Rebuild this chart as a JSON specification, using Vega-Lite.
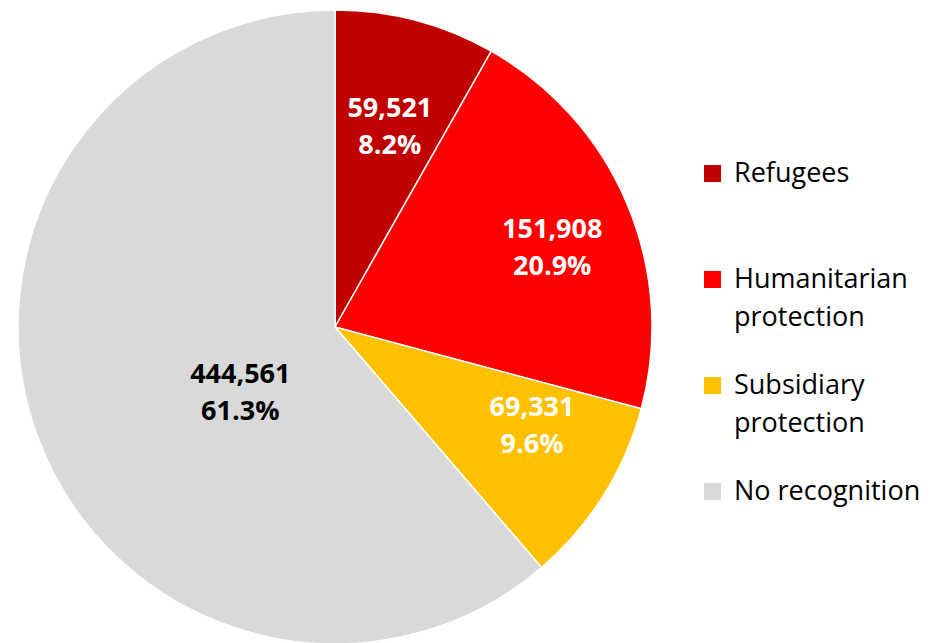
{
  "$schema": "https://vega.github.io/schema/vega-lite/v6.json",
  "width": 670,
  "height": 654,
  "padding": 0,
  "autosize": {"type": "pad"},
  "background": "white",
  "config": {
    "view": {"stroke": null},
    "style": {"guide-label": {"lineHeight": 38}}
  },
  "data": {
    "values": [
      {"category": "Refugees", "rank": 1, "value": 59521, "pct": 8.2},
      {"category": "Humanitarian protection", "rank": 2, "value": 151908, "pct": 20.9},
      {"category": "Subsidiary protection", "rank": 3, "value": 69331, "pct": 9.6},
      {"category": "No recognition", "rank": 4, "value": 444561, "pct": 61.3}
    ]
  },
  "transform": [
    {"calculate": "format(datum.value, ',') + '\\n' + format(datum.pct, '.1f') + '%'", "as": "label"}
  ],
  "encoding": {
    "theta": {"field": "value", "type": "quantitative", "stack": true},
    "order": {"field": "rank", "type": "quantitative"}
  },
  "layer": [
    {
      "mark": {"type": "arc", "radius": 317, "stroke": "white", "strokeWidth": 1.5},
      "encoding": {
        "color": {
          "field": "category",
          "type": "nominal",
          "scale": {
            "domain": ["Refugees", "Humanitarian protection", "Subsidiary protection", "No recognition"],
            "range": ["#C00000", "#FF0000", "#FFC000", "#D9D9D9"]
          },
          "legend": {
            "title": null,
            "orient": "none",
            "legendX": 699,
            "legendY": 160,
            "symbolType": "square",
            "symbolSize": 289,
            "symbolStrokeWidth": 0,
            "labelFont": "Open Sans",
            "labelFontSize": 27,
            "labelColor": "#000000",
            "labelOffset": 8,
            "labelLimit": 400,
            "gridAlign": "all",
            "rowPadding": 40,
            "labelExpr": "datum.label == 'No recognition' ? datum.label : split(datum.label, ' ')"
          }
        }
      }
    },
    {
      "mark": {"type": "text", "radius": 215, "dy": -10, "font": "Open Sans", "fontSize": 27, "fontWeight": "bold", "lineBreak": "\n", "lineHeight": 37, "color": "white"},
      "encoding": {
        "text": {"condition": {"test": "datum.category !== 'Refugees'", "value": ""}, "field": "label", "type": "nominal"}
      }
    },
    {
      "mark": {"type": "text", "radius": 215, "dx": 19, "dy": -14, "font": "Open Sans", "fontSize": 27, "fontWeight": "bold", "lineBreak": "\n", "lineHeight": 37, "color": "white"},
      "encoding": {
        "text": {"condition": {"test": "datum.category !== 'Humanitarian protection'", "value": ""}, "field": "label", "type": "nominal"}
      }
    },
    {
      "mark": {"type": "text", "radius": 215, "dx": 15, "dy": -33, "font": "Open Sans", "fontSize": 27, "fontWeight": "bold", "lineBreak": "\n", "lineHeight": 37, "color": "white"},
      "encoding": {
        "text": {"condition": {"test": "datum.category !== 'Subsidiary protection'", "value": ""}, "field": "label", "type": "nominal"}
      }
    },
    {
      "mark": {"type": "text", "radius": 101, "dy": 13, "font": "Open Sans", "fontSize": 27, "fontWeight": "bold", "lineBreak": "\n", "lineHeight": 37, "color": "black"},
      "encoding": {
        "text": {"condition": {"test": "datum.category !== 'No recognition'", "value": ""}, "field": "label", "type": "nominal"}
      }
    }
  ]
}
